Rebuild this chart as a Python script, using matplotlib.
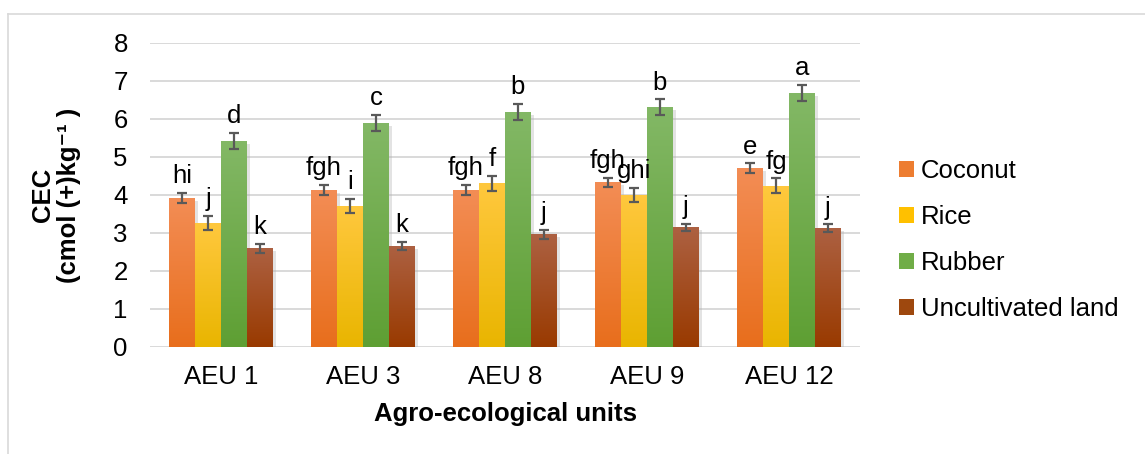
import numpy as np
import matplotlib
matplotlib.use("Agg")
import matplotlib.pyplot as plt
import matplotlib.patheffects as pe
from matplotlib.colors import LinearSegmentedColormap
from matplotlib.lines import Line2D
from matplotlib.patches import Patch

plt.rcParams['font.family'] = ['Liberation Sans', 'DejaVu Sans']

# données
units = ["AEU 1", "AEU 3", "AEU 8", "AEU 9", "AEU 12"]
series = ["Coconut", "Rice", "Rubber", "Uncultivated land"]

coconut = [3.92, 4.13, 4.13, 4.34, 4.71]
rice = [3.26, 3.71, 4.31, 4.00, 4.24]
rubber = [5.42, 5.89, 6.18, 6.31, 6.68]
uncult = [2.60, 2.66, 2.97, 3.15, 3.13]

coconut_err = [0.13, 0.13, 0.13, 0.12, 0.12]
rice_err = [0.19, 0.19, 0.20, 0.19, 0.20]
rubber_err = [0.22, 0.21, 0.21, 0.21, 0.21]
uncult_err = [0.12, 0.10, 0.12, 0.10, 0.10]

coconut_lbl = ["hi", "fgh", "fgh", "fgh", "e"]
rice_lbl = ["j", "i", "f", "ghi", "fg"]
rubber_lbl = ["d", "c", "b", "b", "a"]
uncult_lbl = ["k", "k", "j", "j", "j"]

values = [coconut, rice, rubber, uncult]
errors = [coconut_err, rice_err, rubber_err, uncult_err]
letters = [coconut_lbl, rice_lbl, rubber_lbl, uncult_lbl]

# dégradés (haut -> bas)
grads = [
    ("#F38D55", "#E86E1C"),
    ("#FFC83E", "#E9B500"),
    ("#83B866", "#5E9F33"),
    ("#AD6142", "#993A00"),
]
solid = ["#ED7D31", "#FFC000", "#70AD47", "#9E480E"]

FS = 18.5
W, H = 1145, 454
fig = plt.figure(figsize=(W / 100, H / 100), dpi=100)
ax = fig.add_axes([150 / W, 1 - 347 / H, 710 / W, 304 / H])

x = np.arange(len(units))
bw = 0.183
offsets = (np.arange(4) - 1.5) * bw

for i in range(4):
    bars = ax.bar(
        x + offsets[i], values[i], width=bw, color=solid[i], zorder=3,
        path_effects=[pe.SimplePatchShadow(offset=(2, -2), shadow_rgbFace="#b0b0b0", alpha=0.35), pe.Normal()],
    )
    cmap = LinearSegmentedColormap.from_list("g%d" % i, [grads[i][1], grads[i][0]])
    grad = np.linspace(0, 1, 256).reshape(-1, 1)
    for b in bars:
        x0, w, h = b.get_x(), b.get_width(), b.get_height()
        im = ax.imshow(grad, cmap=cmap, origin="lower", aspect="auto",
                       extent=(x0, x0 + w, 0, h), zorder=3.5)
        im.set_clip_path(b)
    ax.errorbar(x + offsets[i], values[i], yerr=errors[i], fmt="none",
                ecolor="#595959", elinewidth=1.6, capsize=3.5, capthick=1.6, zorder=4)
    for xi, v, e, t in zip(x + offsets[i], values[i], errors[i], letters[i]):
        ax.annotate(t, (xi, v + e), xytext=(0, 7), textcoords="offset points",
                    ha="center", va="baseline", fontsize=FS, zorder=5)

ax.set_xlim(-0.5, len(units) - 0.5)
ax.set_ylim(0, 8)
ax.set_yticks(range(9))
ax.set_xticks(x)
ax.set_xticklabels(units, fontsize=FS)
ax.tick_params(axis="y", length=0, pad=16, labelsize=FS)
ax.tick_params(axis="x", length=0, pad=13)
ax.grid(axis="y", color="#d9d9d9", linewidth=1.4, zorder=0)
ax.set_axisbelow(True)
for s in ax.spines.values():
    s.set_visible(False)

ax.set_xlabel("Agro-ecological units", fontsize=FS, fontweight="bold", labelpad=9)
fig.text(56 / W, 1 - 195 / H, "CEC\n(cmol (+)kg\u207b\u00b9 )", rotation=90,
         ha="center", va="center", fontsize=FS, fontweight="bold",
         multialignment="center", linespacing=1.15)

handles = [Patch(facecolor=c) for c in solid]
fig.legend(handles, series, loc="center left", bbox_to_anchor=(899 / W, 1 - 240 / H),
           frameon=False, fontsize=FS, handlelength=0.6, handleheight=0.6,
           handletextpad=0.25, labelspacing=0.85, borderaxespad=0, borderpad=0)

# cadre extérieur (gris clair)
fig.add_artist(Line2D([8 / W, 1], [1 - 14 / H, 1 - 14 / H], color="#d9d9d9", lw=1.2))
fig.add_artist(Line2D([8 / W, 8 / W], [0, 1 - 14 / H], color="#d9d9d9", lw=1.2))

fig.savefig("out.png", dpi=100)
